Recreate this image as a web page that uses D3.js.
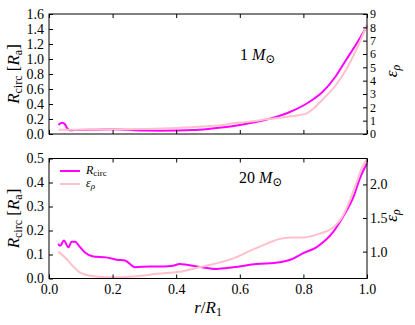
<!DOCTYPE html>
<html>
<head>
<meta charset="utf-8">
<script src="https://cdn.jsdelivr.net/npm/d3@7"></script>
<style>
  body { margin: 0; background: #fff; }
  svg text { font-family: "Liberation Serif", "DejaVu Serif", serif; fill: #000; }
  .axis path { display: none; }
  .axis line { stroke: #000; stroke-width: 1; }
  .axis text { font-size: 14px; }
  .axis.tight text { font-size: 12px; }
</style>
</head>
<body>
<script>
// --- data ---
// top panel: 1 Msun
var rTopCirc = [0.03, 0.035, 0.042, 0.05, 0.058, 0.066, 0.08, 0.1, 0.15, 0.2, 0.25, 0.3, 0.35, 0.4, 0.45, 0.5, 0.55, 0.6, 0.65, 0.7, 0.75, 0.8, 0.83, 0.86, 0.9, 0.936, 0.968, 1.0];
var topCirc  = [0.12, 0.14, 0.15, 0.13, 0.07, 0.05, 0.052, 0.055, 0.058, 0.062, 0.055, 0.045, 0.044, 0.046, 0.052, 0.068, 0.09, 0.12, 0.16, 0.21, 0.28, 0.38, 0.46, 0.56, 0.76, 1.0, 1.21, 1.44];
var rTopEps = [0.03, 0.06, 0.1, 0.2, 0.3, 0.4, 0.475, 0.54, 0.58, 0.64, 0.685, 0.726, 0.76, 0.79, 0.81, 0.831, 0.863, 0.9, 0.936, 0.968, 1.0];
var topEps  = [0.32, 0.32, 0.33, 0.35, 0.38, 0.45, 0.55, 0.65, 0.8, 0.95, 1.1, 1.22, 1.33, 1.42, 1.55, 1.9, 2.65, 3.6, 4.9, 6.4, 8.2];

// bottom panel: 20 Msun
var rBotCirc = [0.029, 0.035, 0.047, 0.061, 0.071, 0.082, 0.095, 0.113, 0.139, 0.18, 0.213, 0.239, 0.27, 0.318, 0.36, 0.39, 0.41, 0.475, 0.527, 0.58, 0.653, 0.726, 0.763, 0.795, 0.842, 0.895, 0.925, 0.958, 0.978, 1.0];
var botCirc  = [0.145, 0.136, 0.158, 0.13, 0.153, 0.153, 0.135, 0.108, 0.092, 0.088, 0.078, 0.075, 0.047, 0.05, 0.05, 0.053, 0.06, 0.048, 0.04, 0.047, 0.06, 0.068, 0.08, 0.103, 0.131, 0.196, 0.258, 0.342, 0.418, 0.48];
var rBotEps = [0.029, 0.056, 0.076, 0.097, 0.129, 0.18, 0.233, 0.29, 0.34, 0.41, 0.475, 0.538, 0.58, 0.632, 0.685, 0.726, 0.768, 0.8, 0.852, 0.894, 0.92, 0.947, 0.968, 0.988, 1.0];
var botEps  = [1.0, 0.887, 0.78, 0.69, 0.64, 0.62, 0.62, 0.64, 0.67, 0.7, 0.77, 0.84, 0.9, 1.01, 1.12, 1.19, 1.21, 1.21, 1.27, 1.36, 1.5, 1.77, 2.04, 2.29, 2.37];

var xTicks = [0.0, 0.2, 0.4, 0.6, 0.8, 1.0];
var topLeftTicks = [0, 0.2, 0.4, 0.6, 0.8, 1.0, 1.2, 1.4, 1.6];
var topRightTicks = [0, 1, 2, 3, 4, 5, 6, 7, 8, 9];
var botLeftTicks = [0, 0.1, 0.2, 0.3, 0.4, 0.5];
var botRightTicks = [1.0, 1.5, 2.0];

var W = 415, H = 325;
var left = 49, right = 367;
var magenta = "#ff00ff", pink = "#ffc0cb";

var svg = d3.select("body").append("svg")
    .attr("width", W)
    .attr("height", H);

var x = d3.scaleLinear().domain([0, 1]).range([left, right]);

function zip(a, b){ return a.map(function(d, i){ return [d, b[i]]; }); }

function panel(top, bottom, yLdom, yRdom, lTicks, rTicks, lFmt, rFmt, circR, circV, epsR, epsV, showX, tightRight){
    var yL = d3.scaleLinear().domain(yLdom).range([bottom, top]);
    var yR = d3.scaleLinear().domain(yRdom).range([bottom, top]);
    var g = svg.append("g");

    var line = d3.line().curve(d3.curveMonotoneX);
    g.append("path")
        .attr("d", line(zip(circR, circV).map(function(d){ return [x(d[0]), yL(d[1])]; })))
        .attr("fill", "none").attr("stroke", magenta).attr("stroke-width", 2);
    g.append("path")
        .attr("d", line(zip(epsR, epsV).map(function(d){ return [x(d[0]), yR(d[1])]; })))
        .attr("fill", "none").attr("stroke", pink).attr("stroke-width", 2);

    // axes with inward ticks
    var xb = d3.axisBottom(x).tickValues(xTicks).tickSizeInner(-4).tickSizeOuter(0).tickPadding(6)
        .tickFormat(showX ? d3.format(".1f") : "");
    g.append("g").attr("class", "axis").attr("transform", "translate(0," + bottom + ")").call(xb);
    g.append("g").attr("class", "axis").attr("transform", "translate(0," + top + ")")
        .call(d3.axisTop(x).tickValues(xTicks).tickSizeInner(-4).tickSizeOuter(0).tickFormat(""));
    g.append("g").attr("class", "axis").attr("transform", "translate(" + left + ",0)")
        .call(d3.axisLeft(yL).tickValues(lTicks).tickSizeInner(-4).tickSizeOuter(0).tickPadding(5).tickFormat(lFmt));
    g.append("g").attr("class", tightRight ? "axis tight" : "axis").attr("transform", "translate(" + right + ",0)")
        .call(d3.axisRight(yR).tickValues(rTicks).tickSizeInner(-4).tickSizeOuter(0).tickPadding(3).tickFormat(rFmt));

    g.append("rect")
        .attr("x", left).attr("y", top)
        .attr("width", right - left).attr("height", bottom - top)
        .attr("fill", "none").attr("stroke", "#000").attr("stroke-width", 1);

    // left y label
    var mid = (top + bottom) / 2;
    var yl = g.append("text")
        .attr("transform", "translate(19," + mid + ") rotate(-90)")
        .attr("text-anchor", "middle")
        .style("font-size", "17px");
    yl.append("tspan").style("font-style", "italic").text("R");
    yl.append("tspan").attr("baseline-shift", "-25%").style("font-size", "12px").text("circ");
    yl.append("tspan").text(" [");
    yl.append("tspan").style("font-style", "italic").text("R");
    yl.append("tspan").attr("baseline-shift", "-25%").style("font-size", "12px").text("a");
    yl.append("tspan").text("]");

    // right y label
    var yr = g.append("text")
        .attr("transform", "translate(397," + (mid - 3) + ") rotate(-90)")
        .attr("text-anchor", "middle")
        .style("font-size", "17px");
    yr.append("tspan").style("font-style", "italic").text("\u03b5");
    yr.append("tspan").attr("baseline-shift", "-25%").style("font-size", "12px").style("font-style", "italic").text("\u03c1");

    return g;
}

function massLabel(g, tx, ty, num){
    var t = g.append("text").attr("x", tx).attr("y", ty).style("font-size", "16px");
    t.append("tspan").text(num + " ");
    t.append("tspan").style("font-style", "italic").text("M");
    t.append("tspan").attr("baseline-shift", "-25%").style("font-size", "12px").text("\u2299");
}

var gTop = panel(14, 134, [0, 1.6], [0, 9], topLeftTicks, topRightTicks, d3.format(".1f"), d3.format("d"),
    rTopCirc, topCirc, rTopEps, topEps, false, true);
massLabel(gTop, 240, 60, "1");

var gBot = panel(158.5, 278.5, [0, 0.5], [0.6, 2.386], botLeftTicks, botRightTicks, d3.format(".1f"), d3.format(".1f"),
    rBotCirc, botCirc, rBotEps, botEps, true, false);
massLabel(gBot, 239, 183, "20");

// legend
var leg = gBot.append("g");
leg.append("line").attr("x1", 60).attr("x2", 80).attr("y1", 171).attr("y2", 171)
    .attr("stroke", magenta).attr("stroke-width", 2);
leg.append("line").attr("x1", 60).attr("x2", 80).attr("y1", 184).attr("y2", 184)
    .attr("stroke", pink).attr("stroke-width", 2);
var l1 = leg.append("text").attr("x", 86).attr("y", 174).style("font-size", "12px");
l1.append("tspan").style("font-style", "italic").text("R");
l1.append("tspan").attr("baseline-shift", "-25%").style("font-size", "9px").text("circ");
var l2 = leg.append("text").attr("x", 86).attr("y", 187).style("font-size", "12px");
l2.append("tspan").style("font-style", "italic").text("\u03b5");
l2.append("tspan").attr("baseline-shift", "-25%").style("font-size", "9px").style("font-style", "italic").text("\u03c1");

// x label
var xl = svg.append("text").attr("x", 208).attr("y", 313).attr("text-anchor", "middle").style("font-size", "17px");
xl.append("tspan").style("font-style", "italic").text("r");
xl.append("tspan").text("/");
xl.append("tspan").style("font-style", "italic").text("R");
xl.append("tspan").attr("baseline-shift", "-25%").style("font-size", "12px").text("1");
</script>
</body>
</html>
